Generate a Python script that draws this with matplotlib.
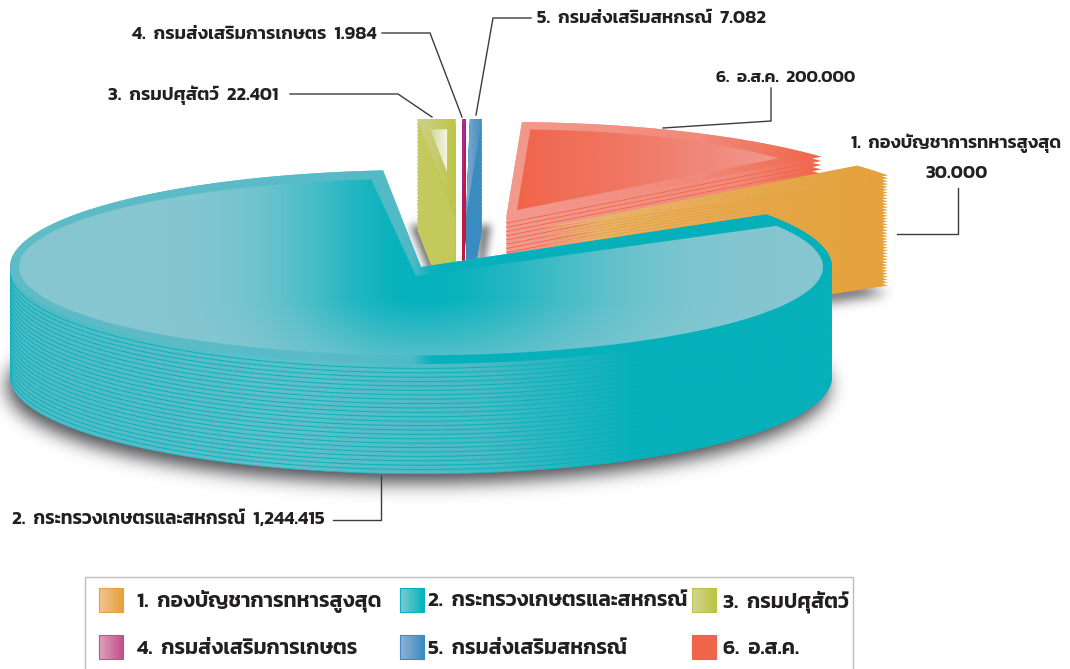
# -*- coding: utf-8 -*-
# พาย 3 มิติแบบแยกชิ้น: งบตามหน่วยงาน
import numpy as np
import matplotlib; matplotlib.use("Agg")
import matplotlib.pyplot as plt
from matplotlib.path import Path
from matplotlib.patches import Rectangle
from matplotlib.colors import to_rgb

labels = ["กองบัญชาการทหารสูงสุด", "กระทรวงเกษตรและสหกรณ์", "กรมปศุสัตว์",
          "กรมส่งเสริมการเกษตร", "กรมส่งเสริมสหกรณ์", "อ.ส.ค."]
values = [30.000, 1244.415, 22.401, 1.984, 7.082, 200.000]
value_text = ["30.000", "1,244.415", "22.401", "1.984", "7.082", "200.000"]
# เรียงตามเข็มจากขอบบนของช่องว่าง
gap_order = [2, 3, 4, 5, 0]

W, H = 1070, 669
CX, CY, RX, RY = 421, 267, 411, 97
DEPTH = 110
START = 95.3
FONT = ["Kanit", "Noto Sans", "DejaVu Sans"]

plt.rcParams["font.family"] = FONT
fig = plt.figure(figsize=(W/100, H/100), dpi=100)
ax = fig.add_axes([0, 0, 1, 1])
ax.set_xlim(0, W); ax.set_ylim(H, 0); ax.axis("off")

Z = [10]
def nz():
    Z[0] += 1
    return Z[0]

def wedge(c, a0, a1, s=1.0, dy=0.0, sy=None):
    # a0 -> a1 มุมลดลงเสมอ (ตามเข็ม)
    sy = s if sy is None else sy
    n = max(int(abs(a1-a0)*1.5), 6)
    t = np.radians(np.linspace(a0, a1, n))
    xs = c[0] + RX*s*np.cos(t)
    ys = c[1] - RY*sy*np.sin(t) + dy
    return np.vstack([[c[0], c[1]+dy], np.c_[xs, ys], [c[0], c[1]+dy]])

def stack_path(c, a0, a1, n):
    polys = [wedge(c, a0, a1, dy=DEPTH*k/n) for k in range(n+1)]
    return Path.make_compound_path(*[Path(p) for p in polys]), polys

def ramp(stops, x0, x1):
    xs = np.arange(x0, x1+1)
    px, cs = zip(*stops)
    cs = np.array([to_rgb(c) for c in cs])
    row = np.stack([np.interp(xs, px, cs[:, i]) for i in range(3)], axis=1)
    return row[None, :, :]

def paint(img, path, x0, x1, y0, y1):
    im = ax.imshow(img, extent=(x0, x1, y1, y0), aspect="auto",
                   interpolation="bilinear", zorder=nz())
    im.set_clip_path(path, transform=ax.transData)
    return im

def grad_fill(path, stops):
    v = path.vertices
    x0, x1 = int(v[:, 0].min())-2, int(v[:, 0].max())+3
    y0, y1 = v[:, 1].min()-2, v[:, 1].max()+2
    return paint(ramp(stops, x0, x1), path, x0, x1, y0, y1)

def soft_shadow(v, sigma, alpha, col="#37373c"):
    yy, xx = np.mgrid[0:H, 0:W]
    pts = np.c_[xx.ravel()+.5, yy.ravel()+.5]
    m = Path(v).contains_points(pts).reshape(H, W).astype(float)
    r = int(sigma*3)
    g = np.exp(-0.5*(np.arange(-r, r+1)/sigma)**2); g /= g.sum()
    m = np.apply_along_axis(lambda a: np.convolve(a, g, "same"), 0, m)
    m = np.apply_along_axis(lambda a: np.convolve(a, g, "same"), 1, m)
    rgba = np.zeros((H, W, 4)); rgba[..., :3] = to_rgb(col); rgba[..., 3] = m*alpha
    ax.imshow(rgba, extent=(0, W, H, 0), aspect="auto", zorder=nz())

# มุมของแต่ละชิ้นจากค่า
total = sum(values)
span = [v/total*360 for v in values]
a = START
ang = {}
for i in gap_order:
    ang[i] = (a, a-span[i]); a -= span[i]
ang[1] = (START+span[1], START)

# ระยะดึงชิ้นออก / จำนวนชั้น / สี
shift = {0: (121, -39), 1: (0, 0), 2: (34, -51), 3: (41, -51), 4: (45, -51), 5: (85, -48)}
layers = {0: 38, 1: 25, 2: 30, 3: 30, 4: 30, 5: 26}
centre = {i: (CX+shift[i][0], CY+shift[i][1]) for i in shift}

wall_stops = {
    0: [(540, "#e9b878"), (760, "#e6a84c"), (890, "#e5a13a")],
    1: [(10, "#4dbbc6"), (300, "#5cc0ca"), (480, "#4abbc5"), (640, "#05b0bb"), (832, "#05b0bb")],
    2: [(417, "#c0c74e"), (457, "#bcc445")],
    3: [(460, "#c2173f"), (470, "#c2173f")],
    4: [(466, "#3a8cc0"), (484, "#3a8cc0")],
    5: [(508, "#f39a8e"), (740, "#f28a7a"), (822, "#f0654a")],
}
line_col = {0: "#e5a23c", 1: "#0cb0bb", 2: "#c8cd68", 3: "#c2173f", 4: "#3a8cc0", 5: "#f0654a"}
top_stops = {
    0: [(540, "#e9b878"), (760, "#e6a84c"), (890, "#e5a13a")],
    1: [(10, "#5fbcc8"), (330, "#58bbc7"), (412, "#4fbac6"), (432, "#07b2bd"), (832, "#05b0bb")],
    2: [(417, "#cdd187"), (440, "#c5ca66"), (457, "#bcc445")],
    3: [(460, "#a62b8e"), (470, "#a62b8e")],
    4: [(466, "#7fa9cf"), (484, "#3a8cc0")],
    5: [(508, "#f29a8d"), (700, "#f2897a"), (822, "#f0654a")],
}

# เงา
soft_shadow(wedge(centre[1], *ang[1], dy=DEPTH+9) + [-3, 0], 9, .9)
soft_shadow(wedge(centre[0], *ang[0], dy=DEPTH+8), 6, .8)
soft_shadow(wedge(centre[2], *ang[2], dy=DEPTH-4) + [-7, 0], 4, .7)
soft_shadow(wedge(centre[4], *ang[4], dy=DEPTH-4) + [9, 0], 4, .7)

def draw_slice(i):
    c = centre[i]; a0, a1 = ang[i]; n = layers[i]
    sil, polys = stack_path(c, a0, a1, n)
    v = sil.vertices
    x0, x1 = int(v[:, 0].min())-2, int(v[:, 0].max())+3
    paint(ramp(wall_stops[i], x0, x1), sil, x0, x1, v[:, 1].min()-2, v[:, 1].max()+2)
    z = nz()
    for k, p in enumerate(polys[1:], 1):
        if i == 1:
            # ด้านหน้าของชิ้นใหญ่คือส่วนโค้งล่าง
            t = np.radians(np.linspace(180, 360, 300))
            q = np.c_[c[0]+RX*np.cos(t), c[1]-RY*np.sin(t)+DEPTH*k/n]
            ln, = ax.plot(q[:, 0], q[:, 1], color=line_col[i], lw=.7, zorder=z)
        elif i == 2:
            ln, = ax.plot(p[:2, 0], p[:2, 1], color=line_col[i], lw=.6, zorder=z)
        else:
            ln, = ax.plot(p[-2:, 0], p[-2:, 1], color=line_col[i], lw=.6, zorder=z)
        ln.set_clip_path(sil, transform=ax.transData)
    grad_fill(Path(wedge(c, a0, a1)), top_stops[i])

for i in [5, 0, 2, 3, 4, 1]:
    draw_slice(i)

# หน้าบนด้านใน
c5 = (centre[5][0]+11, centre[5][1]-9)
grad_fill(Path(wedge(c5, *ang[5], s=.83)), [(517, "#f0654a"), (640, "#f07a68"), (782, "#f09a8e")])
c2 = (centre[2][0]-8, centre[2][1]-44)
grad_fill(Path(wedge(c2, *ang[2], s=.44)), [(430, "#d2d69c"), (447, "#f3f4e2")])

# ชิ้นใหญ่: เข้มตรงกลาง จางออกซ้ายขวา
inner_v = wedge((CX, CY), ang[1][0]-5, ang[1][1]+1.8, s=.978, sy=.91)
inner_v[0] = inner_v[-1] = (416, 276)
inner = Path(inner_v)
yy, xx = np.mgrid[160:370, 10:835]
pale = np.array(to_rgb("#87c7d1")); teal = np.array(to_rgb("#05b2bd"))
wide = np.where(xx < 418, 125.0, 175.0)
wt = np.exp(-((xx-418)/wide)**2) * (1-0.65*np.clip((yy-300)/60.0, 0, 1))
paint(pale + (teal-pale)*wt[..., None], inner, 10, 835, 160, 370)

# เส้นโยง
leaders = [
    ([531, 493, 476], [18, 18, 115]),
    ([382, 430, 462], [33, 33, 117]),
    ([290, 398, 432], [94, 94, 117]),
    ([771, 771, 663], [88, 121, 128]),
    ([958, 958, 897], [188, 234, 234]),
    ([333, 381, 381], [520, 520, 476]),
]
for lx, ly in leaders:
    ax.plot(lx, ly, color="#3c3c3c", lw=1.0, zorder=50, solid_joinstyle="miter")

# ป้ายข้อความ
def say(x, y, s, ha="left", size=13.2):
    ax.text(x, y+1.5, s, ha=ha, va="center", fontsize=size, color="#231f20",
            fontweight=600, family=FONT, zorder=60)

say(537, 17, f"5.  {labels[4]}  {value_text[4]}")
say(376, 33, f"4.  {labels[3]}  {value_text[3]}", ha="right")
say(278, 94, f"3.  {labels[2]}  {value_text[2]}", ha="right")
say(716, 77, f"6.  {labels[5]}  {value_text[5]}", size=12.5)
say(851, 142, f"1.  {labels[0]}", size=13.0)
say(957, 172, value_text[0], ha="center")
say(12, 518, f"2.  {labels[1]}  {value_text[1]}", size=13.5)

# คำอธิบาย
ax.add_patch(Rectangle((85, 577), 768, 110, fc="white", ec="#bdbdbd", lw=1, zorder=70))
sw_x = [99, 400, 692, 99, 400, 692]
sw_y = [588, 588, 588, 635, 635, 635]
tx_x = [137, 428, 723, 137, 428, 723]
sw_a = ["#f1c493", "#7fc9d1", "#d2d694", "#dca3bd", "#91b2d3", "#f0654a"]
sw_b = ["#e5a23c", "#05b2bd", "#bcc445", "#c4508a", "#3a8cc0", "#f0654a"]
for i in range(6):
    x, y = sw_x[i], sw_y[i]
    ax.imshow(ramp([(0, sw_a[i]), (23, sw_b[i])], 0, 23), extent=(x, x+24, y+24, y),
              aspect="auto", zorder=71)
    ax.add_patch(Rectangle((x, y), 24, 24, fc="none", ec=sw_b[i], lw=.8, zorder=72))
    ax.text(tx_x[i], y+13.5, f"{i+1}.  {labels[i]}", ha="left", va="center", fontsize=15,
            color="#231f20", fontweight=600, family=FONT, zorder=73)

ax.set_xlim(0, W); ax.set_ylim(H, 0)
fig.savefig("out.png", dpi=100)
